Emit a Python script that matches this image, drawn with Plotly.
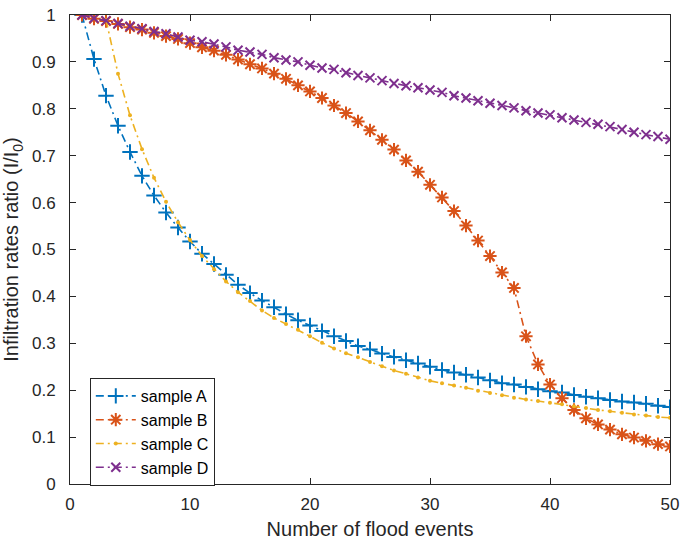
import plotly.graph_objects as go

events = list(range(1, 51))

sample_a = [1.0, 0.906, 0.828, 0.764, 0.708, 0.657, 0.615, 0.579, 0.547, 0.517,
            0.491, 0.469, 0.446, 0.425, 0.407, 0.391, 0.377, 0.362, 0.349, 0.338,
            0.326, 0.315, 0.305, 0.294, 0.287, 0.278, 0.271, 0.264, 0.257, 0.250,
            0.243, 0.238, 0.233, 0.227, 0.221, 0.215, 0.212, 0.207, 0.202, 0.198,
            0.195, 0.190, 0.186, 0.183, 0.179, 0.176, 0.174, 0.171, 0.167, 0.164]

sample_b = [1.0, 0.992, 0.987, 0.981, 0.974, 0.969, 0.962, 0.955, 0.949, 0.940,
            0.931, 0.924, 0.915, 0.905, 0.895, 0.886, 0.875, 0.864, 0.850, 0.837,
            0.823, 0.807, 0.791, 0.773, 0.754, 0.734, 0.713, 0.690, 0.666, 0.638,
            0.611, 0.582, 0.551, 0.519, 0.486, 0.451, 0.418, 0.315, 0.255, 0.212,
            0.183, 0.158, 0.140, 0.127, 0.116, 0.106, 0.099, 0.092, 0.085, 0.080]

events_c = list(range(3, 51))
sample_c = [0.990, 0.875, 0.786, 0.714, 0.653, 0.602, 0.558, 0.520, 0.486, 0.458,
            0.432, 0.409, 0.390, 0.370, 0.354, 0.341, 0.329, 0.315, 0.301, 0.289,
            0.279, 0.270, 0.260, 0.251, 0.242, 0.235, 0.227, 0.220, 0.215, 0.210,
            0.205, 0.199, 0.194, 0.189, 0.184, 0.180, 0.177, 0.173, 0.170, 0.166,
            0.162, 0.158, 0.155, 0.152, 0.148, 0.146, 0.143, 0.141]

sample_d = [1.0, 0.993, 0.988, 0.982, 0.976, 0.971, 0.965, 0.960, 0.953, 0.946,
            0.943, 0.938, 0.932, 0.925, 0.921, 0.916, 0.909, 0.904, 0.900, 0.893,
            0.887, 0.884, 0.877, 0.871, 0.866, 0.860, 0.854, 0.849, 0.845, 0.840,
            0.835, 0.828, 0.823, 0.817, 0.812, 0.807, 0.802, 0.796, 0.791, 0.787,
            0.781, 0.776, 0.771, 0.767, 0.762, 0.756, 0.750, 0.745, 0.741, 0.735]

x_ticks = [0, 10, 20, 30, 40, 50]
y_ticks = [0, 0.1, 0.2, 0.3, 0.4, 0.5, 0.6, 0.7, 0.8, 0.9, 1]
y_tick_labels = ["0", "0.1", "0.2", "0.3", "0.4", "0.5", "0.6", "0.7", "0.8", "0.9", "1"]

DASH = "8px,4px,2px,4px"
FONT = "Liberation Sans, Arial, sans-serif"

fig = go.Figure()

fig.add_trace(go.Scatter(
    x=events, y=sample_a, name="sample A", mode="lines+markers",
    line=dict(color="#0072BD", width=1.6, dash=DASH),
    marker=dict(symbol="cross-thin", size=11, color="#0072BD",
                line=dict(color="#0072BD", width=2)),
))
fig.add_trace(go.Scatter(
    x=events, y=sample_b, name="sample B", mode="lines+markers",
    line=dict(color="#D95319", width=1.6, dash=DASH),
    marker=dict(symbol="asterisk", size=11, color="#D95319",
                line=dict(color="#D95319", width=2)),
))
fig.add_trace(go.Scatter(
    x=events_c, y=sample_c, name="sample C", mode="lines+markers",
    line=dict(color="#EDB120", width=1.6, dash=DASH),
    marker=dict(symbol="circle", size=4, color="#EDB120"),
))
fig.add_trace(go.Scatter(
    x=events, y=sample_d, name="sample D", mode="lines+markers",
    line=dict(color="#7E2F8E", width=1.6, dash=DASH),
    marker=dict(symbol="x-thin", size=9, color="#7E2F8E",
                line=dict(color="#7E2F8E", width=2)),
))

axis_common = dict(
    showline=True, linecolor="#262626", linewidth=1, mirror="allticks",
    ticks="inside", ticklen=6, tickwidth=1, tickcolor="#262626",
    showgrid=False, zeroline=False, ticklabeloverflow="allow",
    tickfont=dict(family=FONT, size=17, color="#262626"),
)

fig.update_layout(
    width=685, height=546,
    margin=dict(l=70, r=8, t=6, b=62),
    paper_bgcolor="white", plot_bgcolor="white",
    font=dict(family=FONT, color="#262626"),
    xaxis=dict(
        range=[0, 50], tickvals=x_ticks,
        title=dict(text="Number of flood events", font=dict(size=20, family=FONT, color="#262626"), standoff=8),
        ticklabelstandoff=5,
        **axis_common,
    ),
    yaxis=dict(
        range=[0, 1], tickvals=y_ticks, ticktext=y_tick_labels,
        title=dict(text="Infiltration rates ratio (I/I<sub>0</sub>)", font=dict(size=20, family=FONT, color="#262626"), standoff=7),
        ticklabelstandoff=10,
        **axis_common,
    ),
    legend=dict(
        x=0.033, y=0.226, xanchor="left", yanchor="top",
        bgcolor="white", bordercolor="#262626", borderwidth=1,
        font=dict(family=FONT, size=16, color="#000000"),
        tracegroupgap=0, itemwidth=40,
    ),
    showlegend=True,
)

fig.write_html(
    "out.html",
    config={"displayModeBar": False},
    post_script="document.body.style.margin='0';document.body.style.overflow='hidden';",
)
